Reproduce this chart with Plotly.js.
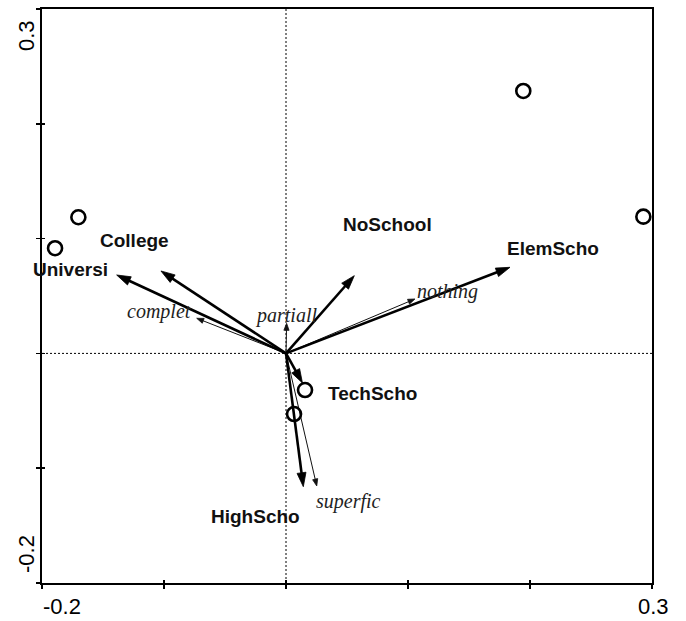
<!DOCTYPE html>
<html>
<head>
<meta charset="utf-8">
<script src="https://cdn.plot.ly/plotly-3.0.1.min.js"></script>
<style>html,body{margin:0;padding:0;background:#fff;}#chart{width:686px;height:621px;}</style>
</head>
<body>
<div id="chart"></div>
<script>
// ---- Data ----
// Environmental variables (bold arrows)
const envNames = ["Universi", "College", "NoSchool", "ElemScho", "TechScho", "HighScho"];
const envX = [-0.1388, -0.1025, 0.0560, 0.1836, 0.0135, 0.0142];
const envY = [0.0683, 0.0718, 0.0677, 0.0750, -0.0258, -0.1161];
// Species (thin arrows)
const spNames = ["complet", "partiall", "nothing", "superfic"];
const spX = [-0.0732, 0.0005, 0.1057, 0.0252];
const spY = [0.0306, 0.0262, 0.0474, -0.1155];
// Samples (circles)
const sampX = [-0.1702, -0.1893, 0.1945, 0.2929, 0.0156, 0.0066];
const sampY = [0.1186, 0.0916, 0.2286, 0.1191, -0.0319, -0.0528];
// Axis ranges and tick labels
const xRange = [-0.2, 0.3];
const yRange = [-0.2, 0.3];
const tickVals = [-0.2, -0.1, 0.0, 0.1, 0.2, 0.3];
const endLabels = ["-0.2", "0.3"];

// ---- Label placement (layout, not data) ----
const envLabelPos = [[-0.1770, 0.0735], [-0.1242, 0.0982], [0.0834, 0.1127], [0.2189, 0.0916], [0.0713, -0.0345], [-0.0250, -0.1425]];
const spLabelPos = [[-0.1041, 0.0369], [0.0000, 0.0334], [0.1324, 0.0535], [0.0514, -0.1294]];

// ---- Geometry ----
const W = 686, H = 621;
const M = {l: 42, r: 34, t: 9, b: 38};
const PW = W - M.l - M.r, PH = H - M.t - M.b;
const sx = PW / (xRange[1] - xRange[0]);
const sy = PH / (yRange[1] - yRange[0]);

function arrowParts(x, y, hl, hw) {
  const px = x * sx, py = y * sy;
  const L = Math.hypot(px, py);
  const ux = px / L, uy = py / L;
  const bx = px - ux * hl, by = py - uy * hl;
  const nx = -uy, ny = ux;
  const sbx = px - ux * hl * 0.6, sby = py - uy * hl * 0.6;
  return {
    hx: [x, (bx + nx * hw) / sx, (bx - nx * hw) / sx, x],
    hy: [y, (by + ny * hw) / sy, (by - ny * hw) / sy, y],
    shx: [0, sbx / sx],
    shy: [0, sby / sy]
  };
}

const traces = [];
function addArrow(x, y, lw, hl, hw, color) {
  const a = arrowParts(x, y, hl, hw);
  traces.push({type: "scatter", mode: "lines", x: a.shx, y: a.shy,
    line: {color: color, width: lw}, hoverinfo: "skip", cliponaxis: false});
  traces.push({type: "scatter", mode: "lines", x: a.hx, y: a.hy, fill: "toself",
    fillcolor: color, line: {color: color, width: 0.8}, hoverinfo: "skip", cliponaxis: false});
}
for (let i = 0; i < spX.length; i++) addArrow(spX[i], spY[i], 1, 7, 2.6, "#111");
for (let i = 0; i < envX.length; i++) addArrow(envX[i], envY[i], 2.6, 14, 4.5, "#000");

traces.push({type: "scatter", mode: "markers", x: sampX, y: sampY,
  marker: {symbol: "circle-open", size: 14, color: "#000", line: {width: 2.6, color: "#000"}},
  hoverinfo: "skip", cliponaxis: false});

const annotations = [];
envNames.forEach((n, i) => annotations.push({
  x: envLabelPos[i][0], y: envLabelPos[i][1], xref: "x", yref: "y", text: n, showarrow: false,
  xanchor: "center", yanchor: "middle",
  font: {family: "Liberation Sans, Arial, sans-serif", size: 19, weight: "bold", color: "#111"}
}));
spNames.forEach((n, i) => annotations.push({
  x: spLabelPos[i][0], y: spLabelPos[i][1], xref: "x", yref: "y", text: n, showarrow: false,
  xanchor: "center", yanchor: "middle",
  font: {family: "Liberation Serif, Times New Roman, serif", size: 20, style: "italic", color: "#222"}
}));
// End tick labels
const tickFont = {family: "Liberation Sans, Arial, sans-serif", size: 22, color: "#000"};
annotations.push({x: 0, y: 0, xref: "paper", yref: "paper", text: endLabels[0], showarrow: false,
  xanchor: "left", yanchor: "middle", yshift: -23, xshift: -1, font: tickFont});
annotations.push({x: 1, y: 0, xref: "paper", yref: "paper", text: endLabels[1], showarrow: false,
  xanchor: "center", yanchor: "middle", yshift: -23, xshift: 1, font: tickFont});
annotations.push({x: 0, y: 1, xref: "paper", yref: "paper", text: endLabels[1], showarrow: false,
  textangle: -90, xanchor: "center", yanchor: "middle", xshift: -16, yshift: -27, font: tickFont});
annotations.push({x: 0, y: 0, xref: "paper", yref: "paper", text: endLabels[0], showarrow: false,
  textangle: -90, xanchor: "center", yanchor: "middle", xshift: -16, yshift: 29, font: tickFont});

const axBase = {
  range: xRange, showgrid: false, zeroline: false, showline: true, mirror: true,
  linecolor: "#000", linewidth: 2, ticks: "outside", ticklen: 4, tickwidth: 1.5, tickcolor: "#000",
  tickvals: tickVals, showticklabels: false, fixedrange: true
};
const layout = {
  width: W, height: H, margin: M, showlegend: false, hovermode: false,
  paper_bgcolor: "#fff", plot_bgcolor: "#fff",
  xaxis: Object.assign({}, axBase, {range: xRange}),
  yaxis: Object.assign({}, axBase, {range: yRange}),
  xaxis2: {range: xRange, overlaying: "x", anchor: "y", side: "bottom", showgrid: false, zeroline: false,
    showline: false, ticks: "inside", ticklen: 3, tickwidth: 1.5, tickcolor: "#000", tickvals: tickVals,
    showticklabels: false, fixedrange: true},
  yaxis2: {range: yRange, overlaying: "y", anchor: "x", side: "left", showgrid: false, zeroline: false,
    showline: false, ticks: "inside", ticklen: 3, tickwidth: 1.5, tickcolor: "#000", tickvals: tickVals,
    showticklabels: false, fixedrange: true},
  shapes: [
    {type: "line", xref: "x", yref: "paper", x0: 0, x1: 0, y0: 0, y1: 1, layer: "below",
      line: {color: "#000", width: 1, dash: "2px,2px"}},
    {type: "line", xref: "paper", yref: "y", x0: 0, x1: 1, y0: 0, y1: 0, layer: "below",
      line: {color: "#000", width: 1, dash: "2px,2px"}}
  ],
  annotations: annotations
};
// invisible anchor trace so the overlay tick axes are drawn
traces.push({type: "scatter", mode: "markers", x: [xRange[0]], y: [yRange[0]], xaxis: "x2", yaxis: "y2",
  marker: {opacity: 0}, hoverinfo: "skip"});

Plotly.newPlot("chart", traces, layout, {staticPlot: true, displayModeBar: false});
</script>
</body>
</html>
